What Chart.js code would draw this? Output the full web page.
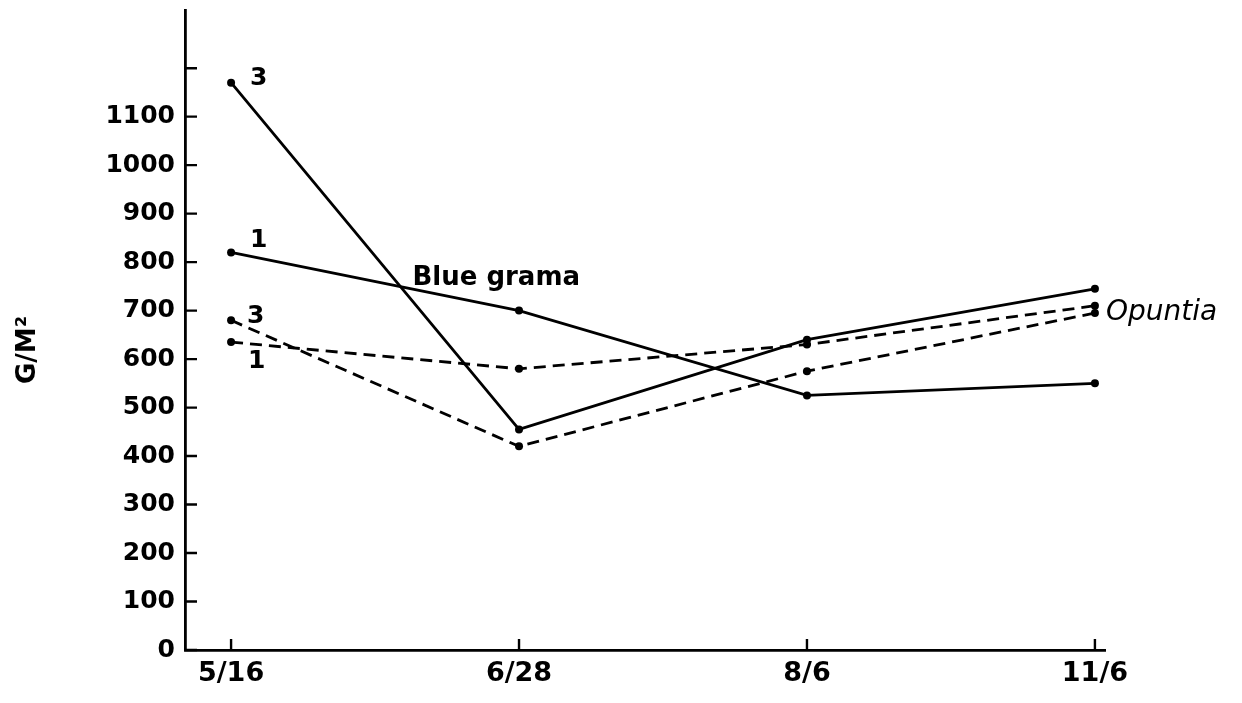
<!DOCTYPE html>
<html>
<head>
<meta charset="utf-8">
<title>G/M² by date</title>
<script src="https://cdn.jsdelivr.net/npm/chart.js@4.4.1/dist/chart.umd.min.js"></script>
<style>
  html, body { margin: 0; padding: 0; background: #fff; }
  #wrap { width: 1242px; height: 703px; }
</style>
</head>
<body>
<div id="wrap"><canvas id="chart" width="1242" height="703"></canvas></div>
<script>
// sampling dates
const categories = ['5/16', '6/28', '8/6', '11/6'];

// biomass, g per square metre
const blueGrama1 = [820, 700, 525, 550];
const blueGrama3 = [1170, 455, 640, 745];
const opuntia1 = [635, 580, 630, 710];
const opuntia3 = [680, 420, 575, 695];

// y axis ticks (top tick has no label)
const yTicks = [0, 100, 200, 300, 400, 500, 600, 700, 800, 900, 1000, 1100, 1200];
const yTickLabels = ['0', '100', '200', '300', '400', '500', '600', '700', '800', '900', '1000', '1100', ''];

const FONT = '"DejaVu Sans", sans-serif';

function toPoints(values) {
    return values.map((v, i) => ({ x: i, y: v }));
}

function series(values, dashed) {
    return {
        data: toPoints(values),
        borderColor: '#000',
        backgroundColor: '#000',
        borderWidth: 2.8,
        borderDash: dashed ? [12, 7] : [],
        pointRadius: 4,
        pointBorderWidth: 0,
        pointBackgroundColor: '#000',
        tension: 0,
        fill: false
    };
}

// tick marks inside the axes, point numbers, series names and the y title
const decorations = {
    id: 'decorations',
    afterDraw(chart) {
        const ctx = chart.ctx;
        const x = chart.scales.x;
        const y = chart.scales.y;
        const area = chart.chartArea;

        ctx.save();
        ctx.strokeStyle = '#000';
        ctx.lineWidth = 2.4;
        ctx.beginPath();
        y.ticks.forEach(t => {
            const py = y.getPixelForValue(t.value);
            ctx.moveTo(area.left, py);
            ctx.lineTo(area.left + 12, py);
        });
        x.ticks.forEach(t => {
            const px = x.getPixelForValue(t.value);
            ctx.moveTo(px, area.bottom);
            ctx.lineTo(px, area.bottom - 11);
        });
        ctx.stroke();

        // small numbers next to the first point of each line
        const marks = [
            { ds: 1, text: '3', dx: 19, dy: -4 },
            { ds: 0, text: '1', dx: 19, dy: -12 },
            { ds: 3, text: '3', dx: 16, dy: -4 },
            { ds: 2, text: '1', dx: 17, dy: 19 }
        ];
        ctx.fillStyle = '#000';
        ctx.font = 'bold 25px ' + FONT;
        ctx.textBaseline = 'middle';
        ctx.textAlign = 'left';
        marks.forEach(m => {
            const pt = chart.getDatasetMeta(m.ds).data[0];
            ctx.fillText(m.text, pt.x + m.dx, pt.y + m.dy);
        });

        // series names
        ctx.textBaseline = 'alphabetic';
        ctx.font = 'bold 26px ' + FONT;
        ctx.fillText('Blue grama', x.getPixelForValue(0.63), y.getPixelForValue(752));
        const last = chart.getDatasetMeta(2).data[3];
        ctx.font = 'italic 28px ' + FONT;
        ctx.fillText('Opuntia', last.x + 11, last.y + 14);

        // y axis title
        ctx.translate(28, 350);
        ctx.rotate(-Math.PI / 2);
        ctx.textAlign = 'center';
        ctx.textBaseline = 'middle';
        ctx.font = 'bold 26px ' + FONT;
        ctx.fillText('G/M²', 0, 0);
        ctx.restore();
    }
};

new Chart(document.getElementById('chart'), {
    type: 'line',
    data: {
        datasets: [
            series(blueGrama1, false),
            series(blueGrama3, false),
            series(opuntia1, true),
            series(opuntia3, true)
        ]
    },
    options: {
        responsive: false,
        animation: false,
        devicePixelRatio: 1,
        layout: { padding: { top: 10, right: 137, bottom: 0, left: 0 } },
        plugins: {
            legend: { display: false },
            tooltip: { enabled: false }
        },
        scales: {
            x: {
                type: 'linear',
                min: -0.16,
                max: 3.035,
                afterBuildTicks: s => { s.ticks = categories.map((c, i) => ({ value: i })); },
                afterFit: s => {
                    s.height = 53;
                    s.paddingLeft = 0;
                    s.paddingRight = 0;
                },
                ticks: {
                    callback: (v, i) => categories[i],
                    color: '#000',
                    font: { family: FONT, size: 27, weight: 'bold' },
                    padding: 8,
                    autoSkip: false,
                    maxRotation: 0
                },
                grid: { drawOnChartArea: false, drawTicks: false },
                border: { color: '#000', width: 2.8 }
            },
            y: {
                min: 0,
                max: 1320,
                afterBuildTicks: s => { s.ticks = yTicks.map(v => ({ value: v })); },
                afterFit: s => {
                    s.width = 185;
                    s.paddingTop = 0;
                    s.paddingBottom = 0;
                },
                ticks: {
                    callback: (v, i) => yTickLabels[i],
                    color: '#000',
                    font: { family: FONT, size: 25, weight: 'bold' },
                    padding: 10
                },
                grid: { drawOnChartArea: false, drawTicks: false },
                border: { color: '#000', width: 2.8 }
            }
        }
    },
    plugins: [decorations]
});
</script>
</body>
</html>
